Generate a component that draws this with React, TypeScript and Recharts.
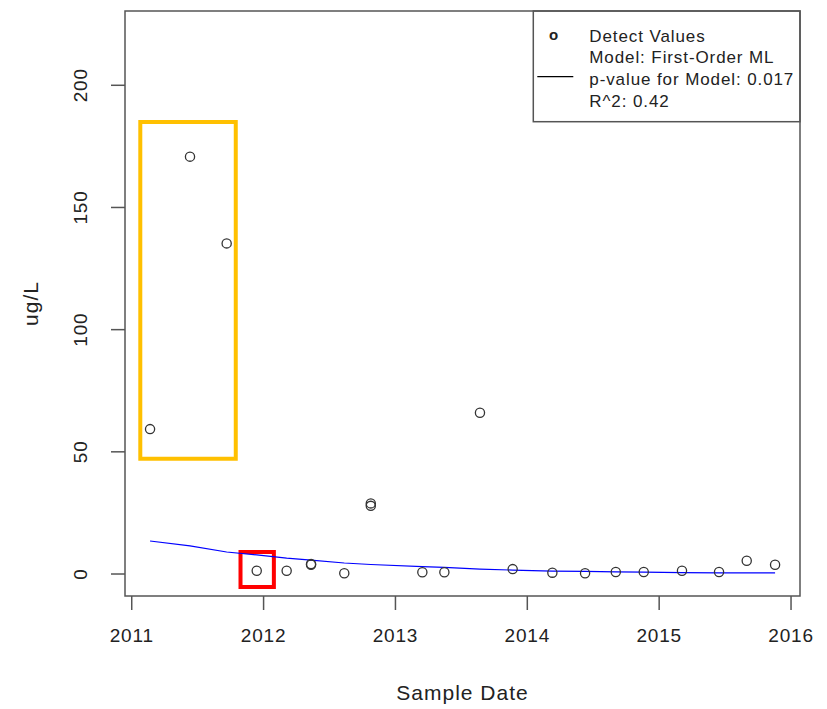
import React from "react";
import {
  ComposedChart,
  XAxis,
  YAxis,
  Scatter,
  Line,
  ReferenceArea,
} from "recharts";

// Sample dates (decimal years) and detected concentrations (ug/L)
const sampleDates = [
  2011.139, 2011.442, 2011.72, 2011.948, 2012.175, 2012.36, 2012.36, 2012.612,
  2012.813, 2012.813, 2013.204, 2013.371, 2013.641, 2013.889, 2014.19, 2014.438,
  2014.671, 2014.883, 2015.173, 2015.454, 2015.664, 2015.879,
];
const detectValues = [
  59.3, 170.8, 135.3, 1.35, 1.35, 4.1, 3.8, 0.3, 28.9, 27.9, 0.7, 0.7, 66.0, 2.0,
  0.55, 0.3, 0.8, 0.8, 1.35, 0.8, 5.4, 3.8,
];

// First-order ML model fit evaluated at each distinct sample date
const modelDates = [
  2011.139, 2011.442, 2011.72, 2011.948, 2012.175, 2012.36, 2012.612, 2012.813,
  2013.204, 2013.371, 2013.641, 2013.889, 2014.19, 2014.438, 2014.671, 2014.883,
  2015.173, 2015.454, 2015.664, 2015.879,
];
const modelValues = [
  13.5, 11.5, 9.0, 7.8, 6.5, 5.7, 4.5, 3.9, 3.0, 2.7, 2.0, 1.6, 1.2, 1.1, 0.9,
  0.75, 0.6, 0.5, 0.5, 0.45,
];

// Axis ticks and ranges
const yearTicks = [2011, 2012, 2013, 2014, 2015, 2016];
const concTicks = [0, 50, 100, 150, 200];
const xRange = [2010.949, 2016.068];
const yRange = [-9.0, 230.4];

// Highlight boxes: [x1, x2, y1, y2] in data units
const earlyHighBox = [2011.065, 2011.789, 47.2, 185.0];
const flaggedBox = [2011.825, 2012.078, -5.3, 9.0];

// Legend entries
const legendLines = [
  "Detect Values",
  "Model: First-Order ML",
  "p-value for Model: 0.017",
  "R^2: 0.42",
];

const scatterRows = sampleDates.map((t, i) => ({ t, conc: detectValues[i] }));
const modelRows = modelDates.map((t, i) => ({ t, model: modelValues[i] }));

const W = 827;
const H = 709;
const PLOT_LEFT = 125;
const PLOT_TOP = 11;
const PLOT_RIGHT = 800;
const PLOT_BOTTOM = 596;

const FONT = "'Liberation Sans', Arial, sans-serif";
const TEXT = "#222";
const FRAME = "#555";

const XTick = (props: any) => {
  const { x, payload } = props;
  return (
    <text
      x={x}
      y={PLOT_BOTTOM + 46}
      textAnchor="middle"
      fontFamily={FONT}
      fontSize={19}
      letterSpacing={0.8}
      fill={TEXT}
    >
      {payload.value}
    </text>
  );
};

const YTick = (props: any) => {
  const { y, payload } = props;
  const bx = 87;
  return (
    <text
      x={bx}
      y={y}
      transform={`rotate(-90, ${bx}, ${y})`}
      textAnchor="middle"
      fontFamily={FONT}
      fontSize={19}
      letterSpacing={0.8}
      fill={TEXT}
    >
      {payload.value}
    </text>
  );
};

const OpenCircle = (props: any) => {
  const { cx, cy } = props;
  if (cx == null || cy == null) return null;
  return <circle cx={cx} cy={cy} r={4.6} fill="none" stroke="#333" strokeWidth={1.3} />;
};

const LegendBox = () => {
  const lx = 533.3;
  const textX = 589.3;
  const baselines = [41.7, 63.3, 85, 106.7];
  return (
    <g>
      <rect
        x={lx}
        y={PLOT_TOP}
        width={PLOT_RIGHT - lx}
        height={121.7 - PLOT_TOP}
        fill="#fff"
        stroke={FRAME}
        strokeWidth={1.5}
      />
      <text
        x={553.7}
        y={39.5}
        textAnchor="middle"
        fontFamily={FONT}
        fontSize={15}
        fontWeight="bold"
        fill={TEXT}
      >
        o
      </text>
      <line x1={537.3} x2={573.3} y1={76.7} y2={76.7} stroke="#000" strokeWidth={1.2} />
      {legendLines.map((s, i) => (
        <text
          key={s}
          x={textX}
          y={baselines[i]}
          fontFamily={FONT}
          fontSize={17}
          letterSpacing={0.9}
          fill={TEXT}
        >
          {s}
        </text>
      ))}
    </g>
  );
};

const AxisTitles = () => (
  <g>
    <text
      x={(PLOT_LEFT + PLOT_RIGHT) / 2}
      y={700}
      textAnchor="middle"
      fontFamily={FONT}
      fontSize={21}
      letterSpacing={1}
      fill={TEXT}
    >
      Sample Date
    </text>
    <text
      x={37.5}
      y={(PLOT_TOP + PLOT_BOTTOM) / 2}
      transform={`rotate(-90, 37.5, ${(PLOT_TOP + PLOT_BOTTOM) / 2})`}
      textAnchor="middle"
      fontFamily={FONT}
      fontSize={21}
      letterSpacing={1}
      fill={TEXT}
    >
      ug/L
    </text>
  </g>
);

export default function App() {
  return (
    <div style={{ position: "absolute", left: 0, top: 0, width: W, height: H, background: "#fff" }}>
      <ComposedChart
        width={W}
        height={H}
        margin={{ top: PLOT_TOP, right: W - PLOT_RIGHT, bottom: 0, left: 0 }}
      >
        <XAxis
          type="number"
          dataKey="t"
          domain={xRange}
          ticks={yearTicks}
          allowDataOverflow
          axisLine={false}
          tickSize={14}
          tickLine={{ stroke: FRAME, strokeWidth: 1.5 }}
          tick={<XTick />}
          height={H - PLOT_BOTTOM}
          interval={0}
        />
        <YAxis
          type="number"
          domain={yRange}
          ticks={concTicks}
          allowDataOverflow
          axisLine={false}
          tickSize={14}
          tickLine={{ stroke: FRAME, strokeWidth: 1.5 }}
          tick={<YTick />}
          width={PLOT_LEFT}
          interval={0}
        />
        <ReferenceArea
          x1={xRange[0]}
          x2={xRange[1]}
          y1={yRange[0]}
          y2={yRange[1]}
          fill="none"
          stroke={FRAME}
          strokeWidth={1.5}
          ifOverflow="visible"
        />
        <ReferenceArea
          x1={earlyHighBox[0]}
          x2={earlyHighBox[1]}
          y1={earlyHighBox[2]}
          y2={earlyHighBox[3]}
          fill="none"
          stroke="#FFC000"
          strokeWidth={4}
          ifOverflow="visible"
        />
        <ReferenceArea
          x1={flaggedBox[0]}
          x2={flaggedBox[1]}
          y1={flaggedBox[2]}
          y2={flaggedBox[3]}
          fill="none"
          stroke="#FF0000"
          strokeWidth={4}
          ifOverflow="visible"
        />
        <Line
          data={modelRows}
          dataKey="model"
          type="linear"
          stroke="#0000FF"
          strokeWidth={1.2}
          dot={false}
          activeDot={false}
          isAnimationActive={false}
        />
        <Scatter
          data={scatterRows}
          dataKey="conc"
          shape={<OpenCircle />}
          isAnimationActive={false}
        />
        <LegendBox />
        <AxisTitles />
      </ComposedChart>
    </div>
  );
}
